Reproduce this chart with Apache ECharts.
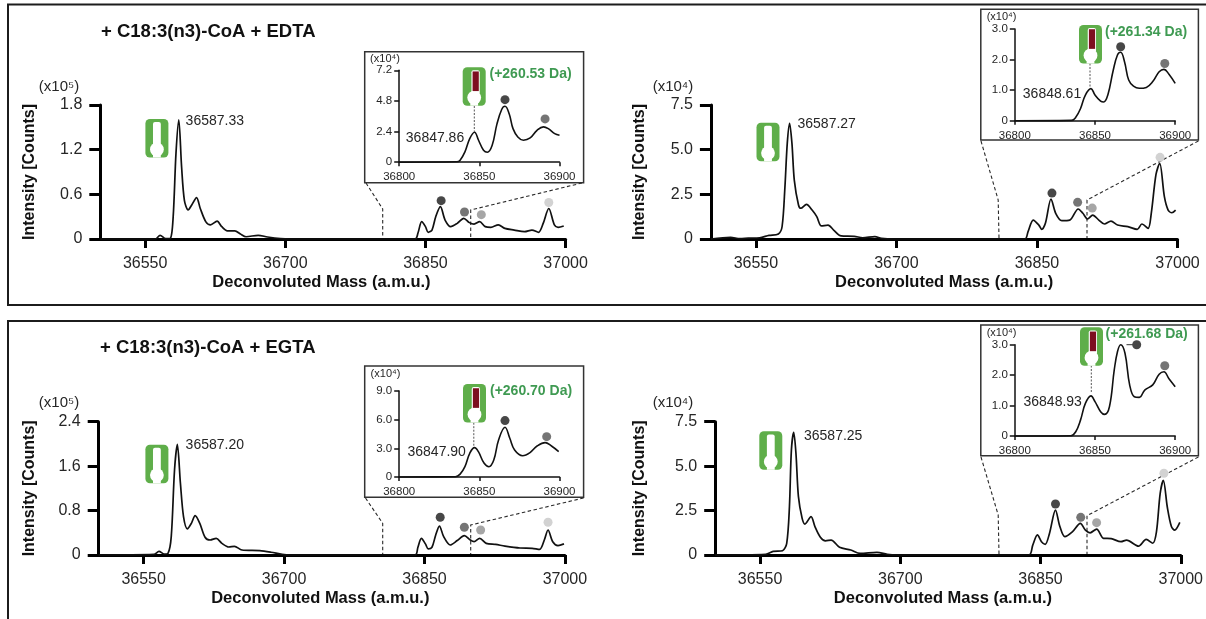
<!DOCTYPE html>
<html><head><meta charset="utf-8">
<style>html,body{margin:0;padding:0;background:#fff}#c{width:1206px;height:619px}</style>
<script src="https://cdn.jsdelivr.net/npm/echarts@6/dist/echarts.min.js"></script>
</head><body><div id="c"></div>
<script>
// ---------- Data ----------
const mainTicks = [36550, 36700, 36850, 37000];
const insetTicks = [36800, 36850, 36900];
const yLabel = 'Intensity [Counts]';
const xLabel = 'Deconvoluted Mass (a.m.u.)';

const massA = [36502,36561,36566,36572,36577,36580,36583,36586,36589,36592,36596,36600,36605,36609,36615,36620,36627,36632,36638,36646,36652,36658,36671,36681,36695,36705,36839,36842,36846,36850,36853,36857,36861,36866,36871,36877,36884,36891,36897,36902,36908,36914,36920,36928,36935,36945,36956,36964,36971,36976,36982,36988,36992,36998];
const intenA = [0,0,0.05,0.005,0.01,0.3,1.15,1.6,0.97,0.52,0.39,0.46,0.555,0.41,0.23,0.19,0.24,0.165,0.11,0.11,0.067,0.03,0.05,0.027,0.005,0,0,0.08,0.233,0.166,0.09,0.12,0.3,0.434,0.255,0.166,0.21,0.278,0.22,0.2,0.233,0.166,0.157,0.19,0.143,0.12,0.098,0.12,0.09,0.21,0.41,0.19,0.157,0.175];

const massB = [36502,36523,36533,36542,36554,36564,36574,36578,36581,36583.5,36586,36588.5,36591,36595.5,36598,36604,36610,36615,36620,36627,36633,36641,36655,36664,36677,36684,36697,36837,36840.5,36846,36852,36855,36859,36865,36870,36876.5,36885,36894,36899,36904,36909.5,36916,36922,36929,36936,36947,36957,36962,36968.6,36972,36977,36981,36986,36990,36994,36998];
const intenB = [0,0.09,0.02,0.05,0.07,0.2,0.28,0.7,2.9,5.35,6.47,5.35,3.3,1.9,1.72,1.94,1.62,1.25,0.73,0.78,0.5,0.17,0.15,0.07,0.13,0.04,0,0,0.41,1.06,0.78,0.54,0.88,2.24,1.44,1.03,1.06,1.68,1.44,1.12,1.34,1.06,0.84,1.0,0.78,0.69,0.54,0.84,0.6,1.44,3.6,4.24,2.37,1.62,1.47,1.62];

const massC = [36502,36561,36566.4,36572,36576,36579.5,36583,36586,36589.3,36592.6,36596.7,36601,36605,36610,36615.6,36621,36627.5,36633.6,36641,36647,36655,36674,36686,36698,36706,36840,36843,36846.7,36851,36854,36858,36862,36866,36870.5,36877.5,36885,36892.6,36899,36903,36909,36916,36926,36936,36952,36965,36973,36978,36982,36987,36992.6,36999];
const intenC = [0,0.01,0.066,0.018,0.03,0.33,1.53,1.99,1.29,0.69,0.47,0.57,0.71,0.57,0.32,0.27,0.3,0.21,0.144,0.156,0.09,0.078,0.05,0.012,0,0,0.14,0.3,0.2,0.11,0.14,0.36,0.52,0.33,0.18,0.26,0.35,0.27,0.24,0.3,0.21,0.19,0.16,0.126,0.12,0.1,0.27,0.45,0.24,0.17,0.2];

const massD = [36502,36556,36564,36574,36578.5,36581.4,36583.5,36586,36588.4,36591,36595,36598,36604.5,36608.7,36614.5,36620,36626,36635,36647,36657,36675,36686,36696,36837.6,36841.7,36846.7,36851,36855,36859.5,36866,36870.7,36876,36884,36892.6,36898,36903,36910,36917.4,36925.6,36936,36942,36954.8,36963,36970,36974,36978,36981.4,36985.6,36990,36993.5,36999];
const intenD = [0,0.04,0.2,0.24,0.66,2.7,5.9,6.9,5.7,3.3,2.06,1.74,2.16,1.6,1.0,0.8,0.84,0.43,0.28,0.09,0.15,0.04,0,0,0.56,1.13,0.75,0.6,1.2,2.53,1.6,1.03,1.3,1.78,1.4,1.25,1.46,0.94,0.92,0.75,0.84,0.5,0.88,0.66,1.3,3.47,4.2,2.7,1.6,1.4,1.84];

const insetMassA = [36800,36836,36838,36841,36844,36847,36849.5,36852.6,36855,36858,36861,36864,36866,36868.6,36871,36874,36877.5,36881.7,36886,36890,36893,36897,36900];
const insetIntenA = [0,0.03,0.16,0.81,1.85,2.35,1.72,0.94,0.78,1.33,3.0,4.15,4.38,3.8,2.63,1.98,1.72,1.9,2.5,2.77,2.63,2.24,2.11];
const insetMassB = [36800,36835.4,36838,36841,36844,36847.5,36850,36853.5,36855.4,36858,36861.4,36864,36866,36868.4,36871,36874,36877.6,36882,36886,36890,36893,36896,36900];
const insetIntenB = [0,0.01,0.11,0.4,0.84,1.05,0.84,0.64,0.61,0.84,1.66,2.15,2.24,1.93,1.33,1.13,1.06,1.09,1.28,1.6,1.68,1.53,1.22];
const insetMassC = [36800,36835,36838,36841,36844,36847,36849.4,36853,36856,36859,36862,36866,36869,36872,36877,36881.6,36886,36891,36895,36899.5];
const insetIntenC = [0,0.03,0.3,1.08,2.48,3.07,2.65,1.43,1.08,1.78,3.87,5.2,4.05,2.83,2.23,2.55,3.24,3.6,3.24,2.65];
const insetMassD = [36800,36835,36838,36841,36844,36847.5,36850,36853.5,36856,36859,36862,36864,36866,36868.7,36871.6,36874.5,36877.6,36881,36886,36890,36893,36896,36900];
const insetIntenD = [0,0.01,0.14,0.53,1.07,1.32,1.13,0.8,0.71,0.96,2.17,2.77,3.0,2.72,1.68,1.29,1.27,1.51,1.68,2.03,2.11,1.89,1.62];

const dotMassA = [36866.8,36891.8,36909.8,36982];  const dotIntenA = [0.515,0.363,0.327,0.49];
const dotMassB = [36866,36893.4,36909,36981.4];    const dotIntenB = [2.57,2.05,1.73,4.57];
const dotMassC = [36866.8,36892.6,36910,36982];    const dotIntenC = [0.68,0.5,0.45,0.59];
const dotMassD = [36866,36893,36910,36982];        const dotIntenD = [2.87,2.12,1.82,4.6];
const insetDotMassA = [36866,36891];   const insetDotIntenA = [4.9,3.39];
const insetDotMassB = [36866,36893.5]; const insetDotIntenB = [2.42,1.87];
const insetDotMassC = [36866,36892];   const insetDotIntenC = [5.9,4.22];
const insetDotMassD = [36876,36893.5]; const insetDotIntenD = [3.0,2.31];
const dotColors = ['#474747','#757575','#a6a6a6','#d2d2d2'];

// ---------- Layout ----------
const panels = [
 {l:100.3,r:565.6,t:105,b:239,ymax:1.8,yint:0.6,mass:massA,inten:intenA,dm:dotMassA,di:dotIntenA,xshift:23,
  mult:'(x10⁵)',mx:59,my:87,peak:'36587.33',px:185.6,py:120.7,ic:[145.4,119],yn:30,
  il:399.2,ir:559.5,it:70.3,ib:162.2,iymax:7.2,iyint:2.4,im:insetMassA,ii:insetIntenA,idm:insetDotMassA,idi:insetDotIntenA,
  box:[364.7,51.7,218.9,131],imx:385,imy:59.3,ipeak:'36847.86',ipx:435,ipy:138,idx:474.3,idy:[106,131.7],iic:[462.7,67.2],gt:'(+260.53 Da)',gx:489.5,gy:74,
  conn:[[[366,183],[382.7,209],[382.7,238]],[[582,183],[470.7,210],[470.7,238]]]},
 {l:710.9,r:1177.5,t:105,b:239,ymax:7.5,yint:2.5,mass:massB,inten:intenB,dm:dotMassB,di:dotIntenB,xshift:0,
  mult:'(x10⁴)',mx:673,my:87,peak:'36587.27',px:797.5,py:124.3,ic:[756.5,122.7],yn:639.4,
  il:1014.8,ir:1175.2,it:29,ib:120.7,iymax:3,iyint:1,im:insetMassB,ii:insetIntenB,idm:insetDotMassB,idi:insetDotIntenB,
  box:[980.8,9.3,217.6,130.7],imx:1001.6,imy:17.3,ipeak:'36848.61',ipx:1052,ipy:94.3,idx:1090,idy:[63.5,88],iic:[1079,25],gt:'(+261.34 Da)',gx:1105,gy:31.7,
  conn:[[[981,141],[998.2,200],[999,238]],[[1198.4,141],[1087,200],[1087,238]]]},
 {l:98.7,r:564.9,t:421.7,b:555,ymax:2.4,yint:0.8,mass:massC,inten:intenC,dm:dotMassC,di:dotIntenC,xshift:23,
  mult:'(x10⁵)',mx:59,my:403,peak:'36587.20',px:185.6,py:444.7,ic:[145.4,444.7],yn:30,
  il:399.2,ir:559.5,it:391,ib:477,iymax:9,iyint:3,im:insetMassC,ii:insetIntenC,idm:insetDotMassC,idi:insetDotIntenC,
  box:[364.7,366,218.9,131.3],imx:385.5,imy:374.3,ipeak:'36847.90',ipx:436.7,ipy:452,idx:473.8,idy:[422.7,447.3],iic:[463,384],gt:'(+260.70 Da)',gx:490,gy:391,
  conn:[[[365.5,498],[382.7,523.3],[382.7,554]],[[583.6,498],[470.7,525],[470.7,554]]]},
 {l:715.2,r:1181.4,t:421.7,b:555,ymax:7.5,yint:2.5,mass:massD,inten:intenD,dm:dotMassD,di:dotIntenD,xshift:10,
  mult:'(x10⁴)',mx:673,my:403,peak:'36587.25',px:804,py:435.7,ic:[759.3,431.3],yn:639.8,
  il:1014.8,ir:1175.2,it:344.7,ib:436,iymax:3,iyint:1,im:insetMassD,ii:insetIntenD,idm:insetDotMassD,idi:insetDotIntenD,
  box:[980.8,325,217.6,130.7],imx:1001.6,imy:332.7,ipeak:'36848.93',ipx:1052.7,ipy:402.3,idx:1091.3,idy:[365.5,393.3],iic:[1080,327.3],gt:'(+261.68 Da)',gx:1105.6,gy:334,
  conn:[[[981,457],[998.2,515],[999,554]],[[1198.4,457],[1087,515.7],[1087,554]]],
  pointer:[1126.5,1133.4,344.7]}
];
const titles = [{text:'+ C18:3(n3)-CoA + EDTA',x:101,y:32},{text:'+ C18:3(n3)-CoA + EGTA',x:100,y:348}];
const FONT = '"Liberation Sans", Arial, sans-serif';
const GREEN = '#5fae4a', RED = '#7d0f20', INK = '#262626';
const zip = (a,b)=>a.map((v,i)=>[v,b[i]]);
const fmtY = v => v===0 ? '0' : v.toFixed(1);

const grid=[],xAxis=[],yAxis=[],series=[],graphic=[];

function txt(x,y,s,o){return Object.assign({type:'text',x,y,z:5,style:Object.assign({text:s,fill:INK,font:'14px '+FONT,align:'left',verticalAlign:'middle'},o||{})});}
function icon(x,y,loaded){
  const w=23,h=38.5;
  const sx=loaded?.38:.33, sw=loaded?.36:.34;
  const ch=[
   {type:'rect',z:5,shape:{x:0,y:0,width:w,height:h,r:4.5},style:{fill:GREEN}},
   {type:'rect',z:6,shape:{x:w*sx,y:h*.08,width:w*sw,height:h*.6,r:[2,2,0,0]},style:{fill:'#fff'}},
   {type:'circle',z:6,shape:{cx:w/2,cy:h*.79,r:w*.3},style:{fill:'#fff'}},
   {type:'rect',z:6,shape:{x:w*.33,y:h*.85,width:w*.34,height:h*.15},style:{fill:'#fff'}}
  ];
  if(loaded) ch.push({type:'rect',z:7,shape:{x:w*.43,y:h*.11,width:w*.27,height:h*.51},style:{fill:RED}});
  return {type:'group',x,y,children:ch};
}
function dash(points,o){return {type:'polyline',z:3,shape:{points},style:Object.assign({fill:null,stroke:'#2a2a2a',lineWidth:1.1,lineDash:[3.5,2.5]},o||{})};}

graphic.push({type:'rect',z:1,shape:{x:8,y:4.5,width:1240,height:300.5},style:{fill:null,stroke:'#1c1c1c',lineWidth:2}});
graphic.push({type:'rect',z:1,shape:{x:8,y:321,width:1240,height:340},style:{fill:null,stroke:'#1c1c1c',lineWidth:2}});
titles.forEach(t=>graphic.push(txt(t.x,t.y,t.text,{font:'bold 18.5px '+FONT,fill:'#111'})));

panels.forEach(p=>{
  // main plot
  let g=grid.length;
  grid.push({left:p.l,top:p.t,width:p.r-p.l,height:p.b-p.t});
  xAxis.push({type:'value',gridIndex:g,z:2,min:36502,max:37000,splitLine:{show:false},
    name:xLabel,nameLocation:'middle',nameGap:35,nameTextStyle:{fontFamily:FONT,fontWeight:'bold',fontSize:16.5,color:'#111',padding:[0,p.xshift,0,0]},
    axisLine:{onZero:false,lineStyle:{color:'#000',width:3}},
    axisTick:{length:9,lineStyle:{color:'#000',width:3},customValues:mainTicks},
    axisLabel:{customValues:mainTicks,formatter:v=>String(v),fontFamily:FONT,fontSize:16,color:INK,margin:17}});
  yAxis.push({type:'value',gridIndex:g,z:2,min:0,max:p.ymax,interval:p.yint,splitLine:{show:false},
    name:yLabel,nameLocation:'middle',nameGap:p.l-p.yn-8,nameRotate:90,nameTextStyle:{fontFamily:FONT,fontWeight:'bold',fontSize:16,color:'#111'},
    axisLine:{lineStyle:{color:'#000',width:3}},
    axisTick:{length:11,lineStyle:{color:'#000',width:3}},
    axisLabel:{formatter:fmtY,fontFamily:FONT,fontSize:16,color:INK,margin:18}});
  series.push({type:'line',xAxisIndex:g,yAxisIndex:g,data:zip(p.mass,p.inten),smooth:0.3,symbol:'none',clip:false,z:3,lineStyle:{color:'#111',width:1.7}});
  series.push({type:'scatter',xAxisIndex:g,yAxisIndex:g,data:zip(p.dm,p.di).map((d,i)=>({value:d,itemStyle:{color:dotColors[i],opacity:1}})),symbolSize:9,z:6});
  // inset box first so the inset plot sits on top
  graphic.push({type:'rect',z:1,shape:{x:p.box[0],y:p.box[1],width:p.box[2],height:p.box[3]},style:{fill:'#fff',stroke:'#333',lineWidth:1.5}});
  // inset plot
  g=grid.length;
  grid.push({left:p.il,top:p.it,width:p.ir-p.il,height:p.ib-p.it});
  xAxis.push({type:'value',gridIndex:g,z:2,min:36800,max:36900,interval:50,splitLine:{show:false},
    axisLine:{onZero:false,lineStyle:{color:'#111',width:1.5}},
    axisTick:{length:4,lineStyle:{color:'#111',width:1.5}},
    axisLabel:{customValues:insetTicks,formatter:v=>String(v),fontFamily:FONT,fontSize:11.5,color:INK,margin:9}});
  yAxis.push({type:'value',gridIndex:g,z:2,min:0,max:p.iymax,interval:p.iyint,splitLine:{show:false},
    axisLine:{lineStyle:{color:'#111',width:1.5}},
    axisTick:{length:5,lineStyle:{color:'#111',width:1.5}},
    axisLabel:{formatter:fmtY,fontFamily:FONT,fontSize:11.5,color:INK,margin:7}});
  series.push({type:'line',xAxisIndex:g,yAxisIndex:g,data:zip(p.im,p.ii),smooth:0.4,symbol:'none',clip:false,z:3,lineStyle:{color:'#111',width:1.6}});
  series.push({type:'scatter',xAxisIndex:g,yAxisIndex:g,data:zip(p.idm,p.idi).map((d,i)=>({value:d,itemStyle:{color:dotColors[i],opacity:1}})),symbolSize:9,z:6});
  // annotations
  graphic.push(txt(p.mx,p.my,p.mult,{font:'15px '+FONT,align:'center'}));
  graphic.push(txt(p.px,p.py,p.peak));
  graphic.push(icon(p.ic[0],p.ic[1],false));
  graphic.push(icon(p.iic[0],p.iic[1],true));
  graphic.push(txt(p.imx,p.imy,p.mult.replace('⁵','⁴'),{font:'11px '+FONT,align:'center'}));
  graphic.push(txt(p.ipx,p.ipy,p.ipeak,{align:'center'}));
  graphic.push(txt(p.gx,p.gy,p.gt,{font:'bold 14px '+FONT,fill:'#3f9a52'}));
  graphic.push(dash([[p.idx,p.idy[0]],[p.idx,p.idy[1]]],{lineWidth:1,stroke:'#555',lineDash:[2,1.5]}));
  p.conn.forEach(c=>graphic.push(dash(c)));
  if(p.pointer) graphic.push(dash([[p.pointer[0],p.pointer[2]],[p.pointer[1],p.pointer[2]]],{lineDash:null,lineWidth:1,stroke:'#333'}));
});

const chart=echarts.init(document.getElementById('c'),null,{renderer:'canvas',width:1206,height:619});
chart.setOption({animation:false,backgroundColor:'#fff',grid,xAxis,yAxis,series,graphic:{elements:graphic}});
</script></body></html>
